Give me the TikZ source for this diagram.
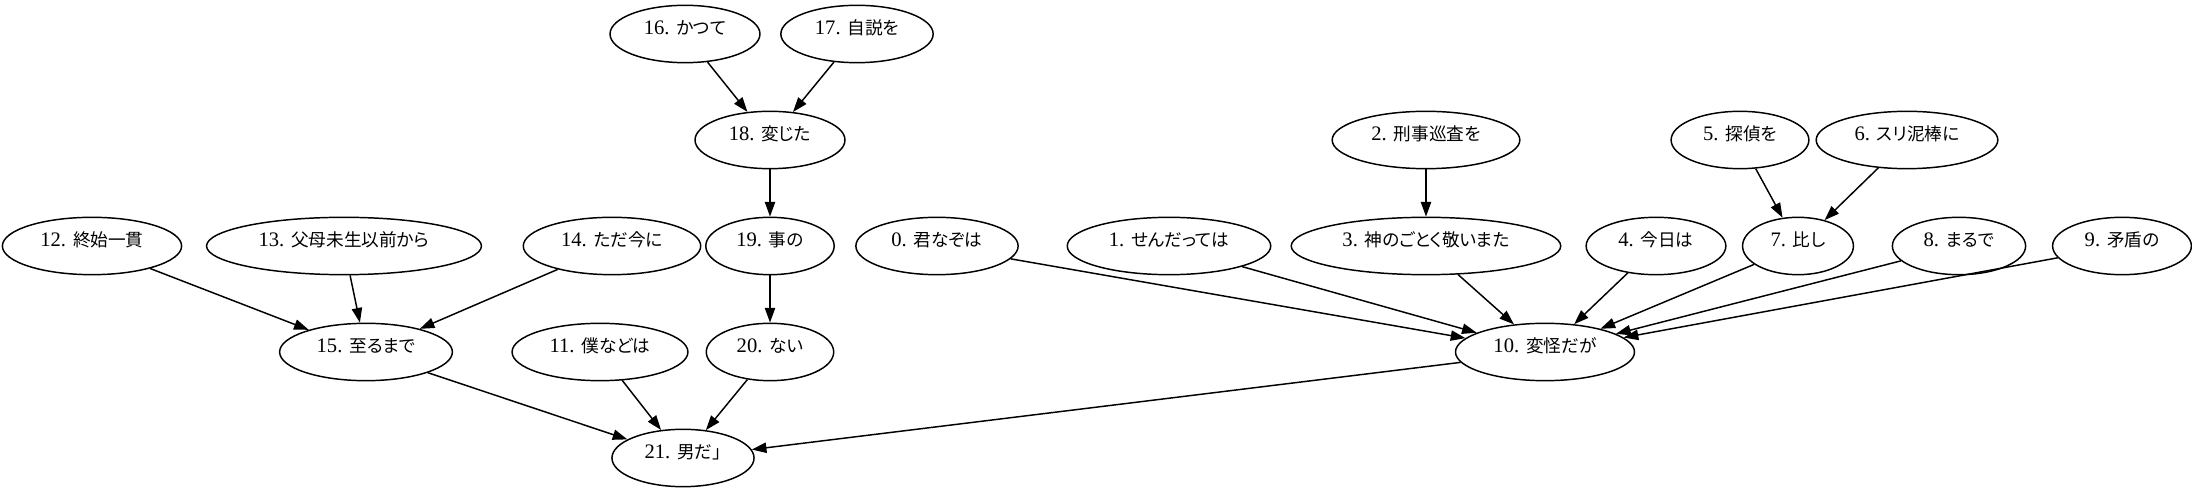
\documentclass[tikz,border=0pt]{standalone}
\usepackage{fontspec}
\setmainfont{Liberation Serif}
\newfontfamily\jpfont[RawFeature=+palt]{Noto Sans CJK JP}
\usepackage{tikz}
\usetikzlibrary{arrows.meta,shapes.geometric}
\newcommand{\wlbl}[2]{#1. {\jpfont\fontsize{12pt}{14pt}\selectfont #2}}

\begin{document}
\begin{tikzpicture}[
    x=0.68pt, y=-0.68pt,
    word/.style={draw=black, line width=1pt, ellipse, inner xsep=8pt, inner ysep=2pt, text height=8pt, text depth=7pt, minimum height=39pt, font=\fontsize{14pt}{16pt}\selectfont},
    dep/.style={draw=black, line width=1pt, -{Triangle[length=10pt,width=7pt]}}
]
\useasboundingbox (0,0) rectangle (2192,493);

\node[word] (n16) at (685,34) {\wlbl{16}{かつて}};
\node[word] (n17) at (857,34) {\wlbl{17}{自説を}};

\node[word] (n18) at (770,140) {\wlbl{18}{変じた}};
\node[word] (n2) at (1426,140) {\wlbl{2}{刑事巡査を}};
\node[word] (n5) at (1740,140) {\wlbl{5}{探偵を}};
\node[word] (n6) at (1907,140) {\wlbl{6}{スリ泥棒に}};

\node[word] (n12) at (92,246) {\wlbl{12}{終始一貫}};
\node[word] (n13) at (344,246) {\wlbl{13}{父母未生以前から}};
\node[word] (n14) at (612,246) {\wlbl{14}{ただ今に}};
\node[word] (n19) at (770,246) {\wlbl{19}{事の}};
\node[word] (n0) at (937,246) {\wlbl{0}{君なぞは}};
\node[word] (n1) at (1169,246) {\wlbl{1}{せんだっては}};
\node[word] (n3) at (1426,246) {\wlbl{3}{神のごとく敬いまた}};
\node[word] (n4) at (1656,246) {\wlbl{4}{今日は}};
\node[word] (n7) at (1798,246) {\wlbl{7}{比し}};
\node[word] (n8) at (1959,246) {\wlbl{8}{まるで}};
\node[word] (n9) at (2122,246) {\wlbl{9}{矛盾の}};

\node[word] (n15) at (366,352) {\wlbl{15}{至るまで}};
\node[word] (n11) at (600,352) {\wlbl{11}{僕などは}};
\node[word] (n20) at (770,352) {\wlbl{20}{ない}};
\node[word] (n10) at (1545,352) {\wlbl{10}{変怪だが}};

\node[word] (n21) at (683,458) {\wlbl{21}{男だ」}};

\draw[dep] (n16) -- (n18);
\draw[dep] (n17) -- (n18);
\draw[dep] (n18) -- (n19);
\draw[dep] (n19) -- (n20);
\draw[dep] (n2) -- (n3);
\draw[dep] (n5) -- (n7);
\draw[dep] (n6) -- (n7);
\draw[dep] (n12) -- (n15);
\draw[dep] (n13) -- (n15);
\draw[dep] (n14) -- (n15);
\draw[dep] (n0) -- (n10);
\draw[dep] (n1) -- (n10);
\draw[dep] (n3) -- (n10);
\draw[dep] (n4) -- (n10);
\draw[dep] (n7) -- (n10);
\draw[dep] (n8) -- (n10);
\draw[dep] (n9) -- (n10);
\draw[dep] (n15) -- (n21);
\draw[dep] (n11) -- (n21);
\draw[dep] (n20) -- (n21);
\draw[dep] (n10) -- (n21);
\end{tikzpicture}
\end{document}
